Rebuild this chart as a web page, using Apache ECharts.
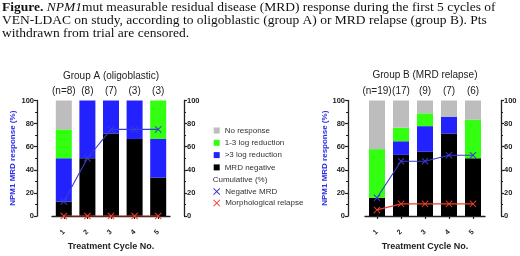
<!DOCTYPE html>
<html>
<head>
<meta charset="utf-8">
<script src="https://cdn.jsdelivr.net/npm/echarts@6/dist/echarts.min.js"></script>
<style>
  html, body { margin: 0; padding: 0; background: #fff; }
  #chart { width: 520px; height: 256px; }
</style>
</head>
<body>
<div id="chart"></div>
<script>
// cycles on the x axis
const cycles = ['1', '2', '3', '4', '5']
const nLabelsA = ['(n=8)', '(8)', '(7)', '(3)', '(3)']
const nLabelsB = ['(n=19)', '(17)', '(9)', '(7)', '(6)']

// group A (oligoblastic), % of patients per segment
const aMrdNeg = [12.5, 50, 71.4, 66.7, 33.3]
const aGt3 = [37.5, 50, 28.6, 33.3, 33.4]
const aLow = [25, 0, 0, 0, 33.3]
const aNone = [25, 0, 0, 0, 0]
const aCumNeg = [12.5, 50, 75, 75, 75]
const aCumRel = [0, 0, 0, 0, 0]

// group B (MRD relapse)
const bMrdNeg = [15.8, 52.9, 55.6, 71.4, 50]
const bGt3 = [0, 11.8, 22.2, 14.3, 0]
const bLow = [42.1, 11.8, 11.1, 0, 33.3]
const bNone = [42.1, 23.5, 11.1, 14.3, 16.7]
const bCumNeg = [15.8, 47.4, 47.4, 52.6, 52.6]
const bCumRel = [5.3, 10.5, 10.5, 10.5, 10.5]

const yTicks = [0, 20, 40, 60, 80, 100]

const FONT = 'Liberation Sans, Arial, sans-serif'
const SERIF = 'Liberation Serif, Times New Roman, serif'
const X_ICON = 'path://M0,1L1,0L5,4L9,0L10,1L6,5L10,9L9,10L5,6L1,10L0,9L4,5Z'
const colors = {
  none: '#bdbdbd',
  low: '#33ff11',
  gt3: '#2222ff',
  neg: '#000000',
  cumNeg: '#3a3ad6',
  cumRel: '#f0402a'
}

const yAxisBase = (grid, pos, offset, margin) => ({
  type: 'value',
  gridIndex: grid,
  position: pos,
  offset: offset,
  min: yTicks[0],
  max: yTicks[yTicks.length - 1],
  interval: 20,
  splitLine: {show: false},
  axisLine: {show: true, lineStyle: {color: '#222', width: 1.3}},
  axisTick: {show: true, length: 3, lineStyle: {color: '#222', width: 1.2}},
  minorTick: {show: true, splitNumber: 2, length: 2, lineStyle: {color: '#222', width: 1.2}},
  axisLabel: {fontFamily: FONT, fontSize: 7.5, fontWeight: 'bold', color: '#222', margin: margin}
})

const yName = (gap) => ({
  name: 'NPM1 MRD response (%)',
  nameLocation: 'middle',
  nameGap: gap,
  nameTextStyle: {fontFamily: FONT, fontSize: 8, fontWeight: 'bold', color: '#2a2ae6'}
})

const xAxisBottom = (grid) => ({
  type: 'category',
  gridIndex: grid,
  data: cycles,
  position: 'bottom',
  offset: 11,
  name: 'Treatment Cycle No.',
  nameLocation: 'middle',
  nameGap: 15,
  nameTextStyle: {fontFamily: FONT, fontSize: 9, fontWeight: 'bold', color: '#222'},
  axisLine: {show: true, lineStyle: {color: '#222', width: 1.3}},
  axisTick: {show: true, alignWithLabel: true, length: 3, lineStyle: {color: '#222', width: 1.2}},
  axisLabel: {interval: 0, fontFamily: FONT, fontSize: 7, fontWeight: 'bold', color: '#222', rotate: 45, margin: 4}
})

const xAxisTop = (grid, labels) => ({
  type: 'category',
  gridIndex: grid,
  data: labels,
  position: 'top',
  axisLine: {show: false},
  axisTick: {show: false},
  axisLabel: {interval: 0, hideOverlap: false, fontFamily: FONT, fontSize: 10, color: '#222', margin: 4}
})

const groupSeries = (xi, yi, stack, neg, gt3, low, none, cumNeg, cumRel) => {
  const bar = (name, data, color) => ({
    name: name,
    type: 'bar',
    xAxisIndex: xi,
    yAxisIndex: yi,
    stack: stack,
    barWidth: 16,
    data: data,
    itemStyle: {color: color},
    silent: true
  })
  const line = (name, data, color) => ({
    name: name,
    type: 'line',
    xAxisIndex: xi,
    yAxisIndex: yi,
    data: data,
    symbol: X_ICON,
    symbolSize: 7,
    z: 5,
    lineStyle: {color: color, width: 1.1},
    itemStyle: {color: color},
    silent: true
  })
  return [
    bar('MRD negative', neg, colors.neg),
    bar('>3 log reduction', gt3, colors.gt3),
    bar('1-3 log reduction', low, colors.low),
    bar('No response', none, colors.none),
    line('Negative MRD', cumNeg, colors.cumNeg),
    line('Morphological relapse', cumRel, colors.cumRel)
  ]
}

const chart = echarts.init(document.getElementById('chart'), null, {renderer: 'canvas'})

const option = {
  animation: false,
  backgroundColor: '#fff',
  grid: [
    {left: 52, width: 118, top: 100.5, height: 115.5},
    {left: 365, width: 120, top: 100.5, height: 115.5}
  ],
  xAxis: [
    xAxisBottom(0),
    xAxisTop(0, nLabelsA),
    xAxisBottom(1),
    xAxisTop(1, nLabelsB)
  ],
  yAxis: [
    Object.assign(yAxisBase(0, 'left', 15, 3), yName(20)),
    yAxisBase(0, 'right', 14, 3),
    Object.assign(yAxisBase(1, 'left', 17, 3), yName(19)),
    yAxisBase(1, 'right', 16, 3)
  ],
  legend: [
    {
      data: ['No response', '1-3 log reduction', '>3 log reduction', 'MRD negative'],
      orient: 'vertical',
      left: 213.7,
      top: 124.5,
      padding: 0,
      itemWidth: 6,
      itemHeight: 6,
      itemGap: 0.3,
      itemTextGap: 5,
      icon: 'rect',
      selectedMode: false,
      textStyle: {fontFamily: FONT, fontSize: 8, color: '#333', lineHeight: 12}
    },
    {
      data: ['Negative MRD', 'Morphological relapse'],
      orient: 'vertical',
      left: 213.2,
      top: 185.7,
      padding: 0,
      itemWidth: 7,
      itemHeight: 7,
      itemGap: 0,
      itemTextGap: 5,
      icon: X_ICON,
      selectedMode: false,
      textStyle: {fontFamily: FONT, fontSize: 8, color: '#333', lineHeight: 11.6}
    }
  ],
  graphic: [
    {
      type: 'text', x: 2, y: 7.5,
      style: {
        text: '{b|Figure.} {i|NPM1}mut measurable residual disease (MRD) response during the first 5 cycles of',
        fontFamily: SERIF, fontSize: 13.5, fill: '#111', verticalAlign: 'middle',
        rich: {
          b: {fontFamily: SERIF, fontSize: 13.5, fontWeight: 'bold', fill: '#111'},
          i: {fontFamily: SERIF, fontSize: 13.5, fontStyle: 'italic', fill: '#111'}
        }
      }
    },
    {
      type: 'text', x: 2, y: 20.7,
      style: {
        text: 'VEN-LDAC on study, according to oligoblastic (group A) or MRD relapse (group B). Pts',
        fontFamily: SERIF, fontSize: 13.5, fill: '#111', verticalAlign: 'middle'
      }
    },
    {
      type: 'text', x: 2, y: 33.5,
      style: {
        text: 'withdrawn from trial are censored.',
        fontFamily: SERIF, fontSize: 13.5, fill: '#111', verticalAlign: 'middle'
      }
    },
    {
      type: 'text', x: 111, y: 76.5,
      style: {text: 'Group A (oligoblastic)', fontFamily: FONT, fontSize: 10, fill: '#222', align: 'center', verticalAlign: 'middle'}
    },
    {
      type: 'text', x: 425, y: 75.5,
      style: {text: 'Group B (MRD relapse)', fontFamily: FONT, fontSize: 10, fill: '#222', align: 'center', verticalAlign: 'middle'}
    },
    {
      type: 'text', x: 212.7, y: 180,
      style: {text: 'Cumulative (%)', fontFamily: FONT, fontSize: 8, fill: '#333', verticalAlign: 'middle'}
    }
  ],
  series: [
    ...groupSeries(0, 0, 'A', aMrdNeg, aGt3, aLow, aNone, aCumNeg, aCumRel),
    ...groupSeries(2, 2, 'B', bMrdNeg, bGt3, bLow, bNone, bCumNeg, bCumRel)
  ]
}

chart.setOption(option)
</script>
</body>
</html>
